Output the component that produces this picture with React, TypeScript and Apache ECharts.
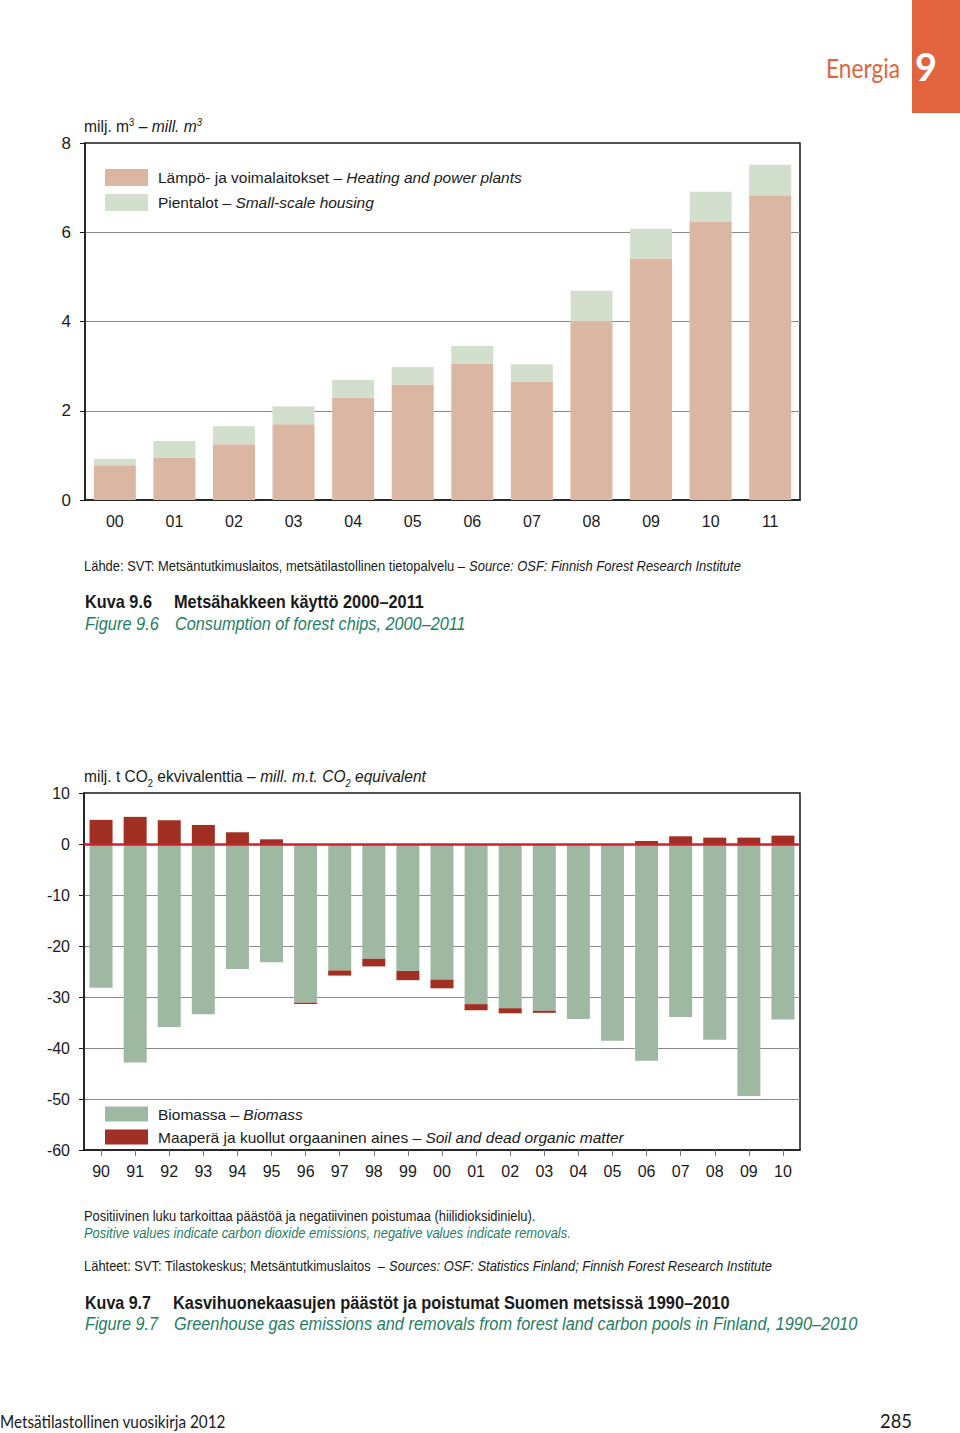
import React, { useEffect, useRef } from "react";
import * as echarts from "echarts";

// ---- Data: Figure 9.6 (forest chips, mill. m3)
const years1 = ["00", "01", "02", "03", "04", "05", "06", "07", "08", "09", "10", "11"];
const heating = [0.78, 0.94, 1.25, 1.7, 2.29, 2.59, 3.05, 2.65, 4.01, 5.41, 6.23, 6.83];
const housing = [0.14, 0.38, 0.4, 0.4, 0.4, 0.39, 0.4, 0.39, 0.68, 0.67, 0.68, 0.68];

// ---- Data: Figure 9.7 (GHG, mill. t CO2 eq.)
const years2 = ["90", "91", "92", "93", "94", "95", "96", "97", "98", "99", "00", "01", "02", "03", "04", "05", "06", "07", "08", "09", "10"];
const biomass = [-28.2, -42.85, -35.9, -33.4, -24.5, -23.2, -31.1, -24.8, -22.5, -24.9, -26.6, -31.4, -32.2, -32.7, -34.3, -38.6, -42.5, -33.9, -38.4, -49.4, -34.4];
const soil = [4.73, 5.32, 4.66, 3.74, 2.3, 0.92, -0.27, -1.0, -1.5, -1.8, -1.7, -1.2, -1.0, -0.4, 0, 0, 0.59, 1.51, 1.25, 1.25, 1.64];

const FONT_NAME = "Liberation Sans";
const FONT = '"Liberation Sans", Arial, sans-serif';
const GILL_NAME = "Lato";
const GILL = 'Lato, "Open Sans", sans-serif';
const GREEN = "#1f7e63";
const ORANGE = "#e2643f";
const DARK = "#1a1a1a";
const TAN = "#dbb6a3";
const PALE = "#d2dfcd";
const BIOGREEN = "#9fb8a2";
const SOILRED = "#a02f24";
const ZERORED = "#cf2030";

function richSet(size: number, lineHeight?: number) {
  const lh = lineHeight ? { lineHeight } : {};
  return {
    n: { fontSize: size, fontFamily: FONT, color: DARK, ...lh },
    i: { fontSize: size, fontFamily: FONT, color: DARK, fontStyle: "italic", ...lh },
    g: { fontSize: size, fontFamily: FONT, color: GREEN, fontStyle: "italic", ...lh },
    sup: { fontSize: size * 0.6, fontFamily: FONT, color: DARK, verticalAlign: "top" },
    supi: { fontSize: size * 0.6, fontFamily: FONT, color: DARK, verticalAlign: "top", fontStyle: "italic" },
    sub: { fontSize: size * 0.6, fontFamily: FONT, color: DARK, verticalAlign: "bottom", padding: [0, 0, -4, 0] },
    subi: { fontSize: size * 0.6, fontFamily: FONT, color: DARK, verticalAlign: "bottom", fontStyle: "italic", padding: [0, 0, -4, 0] },
    b: { fontSize: size, fontFamily: FONT, color: DARK, fontWeight: "bold", ...lh },
  };
}

let measureCtx: CanvasRenderingContext2D | null = null;
function measure(text: string, size: number, weight = "normal", style = "normal", family = FONT_NAME): number {
  if (!measureCtx) measureCtx = document.createElement("canvas").getContext("2d");
  const ctx = measureCtx!;
  const re = /\{(\w+)\|([^}]*)\}/g;
  let m: RegExpExecArray | null;
  let total = 0;
  let found = false;
  while ((m = re.exec(text))) {
    found = true;
    const key = m[1];
    const seg = m[2];
    let sz = size;
    let st = "normal";
    let wt = "normal";
    if (key === "sup" || key === "supi" || key === "sub" || key === "subi") sz = size * 0.6;
    if (key === "i" || key === "g" || key === "supi" || key === "subi") st = "italic";
    if (key === "b") wt = "bold";
    ctx.font = `${st} ${wt} ${sz}px "${family}"`;
    total += ctx.measureText(seg).width;
  }
  if (!found) {
    ctx.font = `${style} ${weight} ${size}px "${family}"`;
    total = ctx.measureText(text).width;
  }
  return total;
}

function txt(x: number, y: number, text: string, size: number, opts: any = {}) {
  const weight = opts.fontWeight || "normal";
  const fstyle = opts.fontStyle || "normal";
  let scaleX = 1;
  if (opts.w) {
    const mw = measure(text, size, weight, fstyle, opts.fontName || FONT_NAME);
    if (mw > 0) scaleX = opts.w / mw;
  }
  return {
    type: "text",
    silent: true,
    x,
    y,
    scaleX,
    style: {
      x: 0,
      y: 0,
      text,
      fontSize: size,
      fontFamily: opts.fontFamily || FONT,
      fontWeight: weight,
      fontStyle: fstyle,
      fill: opts.fill || DARK,
      align: opts.align || "left",
      verticalAlign: "middle",
      rich: richSet(size),
    },
  };
}

const legendNames: Record<string, string> = {
  heat: "{n|Lämpö- ja voimalaitokset – }{i|Heating and power plants}",
  house: "{n|Pientalot – }{i|Small-scale housing}",
  bio: "{n|Biomassa – }{i|Biomass}",
  soil: "{n|Maaperä ja kuollut orgaaninen aines – }{i|Soil and dead organic matter}",
};

export default function App() {
  const ref = useRef<HTMLDivElement>(null);
  useEffect(() => {
    if (!ref.current) return;
    const chart = echarts.init(ref.current, undefined, { renderer: "svg" });
    const axisLabelStyle = { fontSize: 16, fontFamily: FONT, color: DARK };
    const leg1Size = Math.min(17, (17 * 364) / measure(legendNames.heat, 17));
    const leg2Size = Math.min(17, (17 * 466) / measure(legendNames.soil, 17));
    const option: any = {
      animation: false,
      backgroundColor: "#ffffff",
      grid: [
        { left: 85, right: 160, top: 143, bottom: 933, show: true, borderColor: DARK, borderWidth: 1.5, backgroundColor: "transparent" },
        { left: 84, right: 160, top: 793, bottom: 283, show: true, borderColor: DARK, borderWidth: 1.5, backgroundColor: "transparent" },
      ],
      xAxis: [
        {
          type: "category",
          gridIndex: 0,
          data: years1,
          axisLine: { lineStyle: { color: DARK, width: 1.5 } },
          axisTick: { show: false },
          axisLabel: { ...axisLabelStyle, margin: 13 },
        },
        {
          type: "category",
          gridIndex: 1,
          data: years2,
          position: "bottom",
          axisLine: { onZero: false, lineStyle: { color: DARK, width: 1.5 } },
          axisTick: { show: true, alignWithLabel: true, length: 6, lineStyle: { color: "#777" } },
          axisLabel: { ...axisLabelStyle, margin: 13 },
        },
      ],
      yAxis: [
        {
          type: "value",
          gridIndex: 0,
          min: 0,
          max: 8,
          interval: 2,
          axisLine: { show: true, lineStyle: { color: DARK, width: 1.5 } },
          axisTick: { show: true, length: 5, lineStyle: { color: DARK } },
          axisLabel: { ...axisLabelStyle, fontSize: 17, margin: 14 },
          splitLine: { show: true, showMinLine: false, showMaxLine: false, lineStyle: { color: "#8a8a8a", width: 1 } },
        },
        {
          type: "value",
          gridIndex: 1,
          min: -60,
          max: 10,
          interval: 10,
          axisLine: { show: true, lineStyle: { color: DARK, width: 1.5 } },
          axisTick: { show: true, length: 5, lineStyle: { color: DARK } },
          axisLabel: { ...axisLabelStyle, margin: 14 },
          splitLine: { show: true, showMinLine: false, showMaxLine: false, lineStyle: { color: "#8a8a8a", width: 1 } },
        },
      ],
      legend: [
        {
          data: ["heat", "house"],
          orient: "vertical",
          left: 105,
          top: 169,
          padding: 0,
          itemWidth: 43,
          itemHeight: 17,
          itemGap: 8,
          icon: "rect",
          selectedMode: false,
          formatter: (name: string) => legendNames[name],
          textStyle: { fontSize: leg1Size, fontFamily: FONT, color: DARK, lineHeight: 17, padding: [0, 0, 0, 5], rich: richSet(leg1Size, 17) },
        },
        {
          data: ["bio", "soil"],
          orient: "vertical",
          left: 105,
          top: 1106,
          padding: 0,
          itemWidth: 43,
          itemHeight: 15,
          itemGap: 7,
          icon: "rect",
          selectedMode: false,
          formatter: (name: string) => legendNames[name],
          textStyle: { fontSize: leg2Size, fontFamily: FONT, color: DARK, lineHeight: 15, padding: [0, 0, 0, 5], rich: richSet(leg2Size, 15) },
        },
      ],
      series: [
        { name: "heat", type: "bar", xAxisIndex: 0, yAxisIndex: 0, stack: "a", barWidth: 42, data: heating, itemStyle: { color: TAN } },
        { name: "house", type: "bar", xAxisIndex: 0, yAxisIndex: 0, stack: "a", barWidth: 42, data: housing, itemStyle: { color: PALE } },
        { name: "bio", type: "bar", xAxisIndex: 1, yAxisIndex: 1, stack: "b", barWidth: 23, data: biomass, itemStyle: { color: BIOGREEN } },
        {
          name: "soil",
          type: "bar",
          xAxisIndex: 1,
          yAxisIndex: 1,
          stack: "b",
          barWidth: 23,
          data: soil,
          itemStyle: { color: SOILRED },
          z: 3,
          markLine: {
            silent: true,
            symbol: ["none", "none"],
            label: { show: false },
            lineStyle: { color: ZERORED, width: 2.5, type: "solid" },
            data: [{ yAxis: 0 }],
          },
        },
      ],
      graphic: [
        { type: "rect", silent: true, shape: { x: 912, y: 0, width: 48, height: 113 }, style: { fill: ORANGE } },
        txt(926, 66, "9", 38, { fontFamily: GILL, fontWeight: "bold", fill: "#ffffff", align: "center" }),
        txt(900, 68, "Energia", 26, { fontFamily: GILL, fontName: GILL_NAME, fill: ORANGE, align: "right", w: 74 }),

        txt(84, 126, "{n|milj. m}{sup|3}{n| – }{i|mill. m}{supi|3}", 17, { w: 118 }),
        txt(84, 566, "{n|Lähde: SVT: Metsäntutkimuslaitos, metsätilastollinen tietopalvelu – }{g|Source: OSF: Finnish Forest Research Institute}", 14, { w: 657 }),
        txt(85, 602, "Kuva 9.6", 19, { fontWeight: "bold", w: 67 }),
        txt(174, 602, "Metsähakkeen käyttö 2000–2011", 19, { fontWeight: "bold", w: 250 }),
        txt(85, 624, "Figure 9.6", 19, { fontStyle: "italic", fill: GREEN, w: 74 }),
        txt(175, 624, "Consumption of forest chips, 2000–2011", 19, { fontStyle: "italic", fill: GREEN, w: 291 }),

        txt(84, 776, "{n|milj. t CO}{sub|2}{n| ekvivalenttia – }{i|mill. m.t. CO}{subi|2}{i| equivalent}", 17, { w: 342 }),
        txt(84, 1216, "Positiivinen luku tarkoittaa päästöä ja negatiivinen poistumaa (hiilidioksidinielu).", 14, { w: 452 }),
        txt(84, 1233, "Positive values indicate carbon dioxide emissions, negative values indicate removals.", 14, { fontStyle: "italic", fill: GREEN, w: 487 }),
        txt(84, 1266, "{n|Lähteet: SVT: Tilastokeskus; Metsäntutkimuslaitos  – }{g|Sources: OSF: Statistics Finland; Finnish Forest Research Institute}", 14, { w: 688 }),
        txt(85, 1303, "Kuva 9.7", 19, { fontWeight: "bold", w: 66 }),
        txt(173, 1303, "Kasvihuonekaasujen päästöt ja poistumat Suomen metsissä 1990–2010", 19, { fontWeight: "bold", w: 557 }),
        txt(85, 1324, "Figure 9.7", 19, { fontStyle: "italic", fill: GREEN, w: 73 }),
        txt(174, 1324, "Greenhouse gas emissions and removals from forest land carbon pools in Finland, 1990–2010", 19, { fontStyle: "italic", fill: GREEN, w: 684 }),

        txt(0, 1421, "Metsätilastollinen vuosikirja 2012", 17, { fontFamily: GILL, fontName: GILL_NAME, w: 226 }),
        txt(912, 1420, "285", 20, { fontFamily: GILL, fontName: GILL_NAME, align: "right", w: 32 }),
      ],
    };
    chart.setOption(option);
    return () => chart.dispose();
  }, []);
  return (
    <div
      ref={ref}
      style={{ position: "absolute", left: 0, top: 0, width: 960, height: 1433, background: "#fff" }}
    />
  );
}
